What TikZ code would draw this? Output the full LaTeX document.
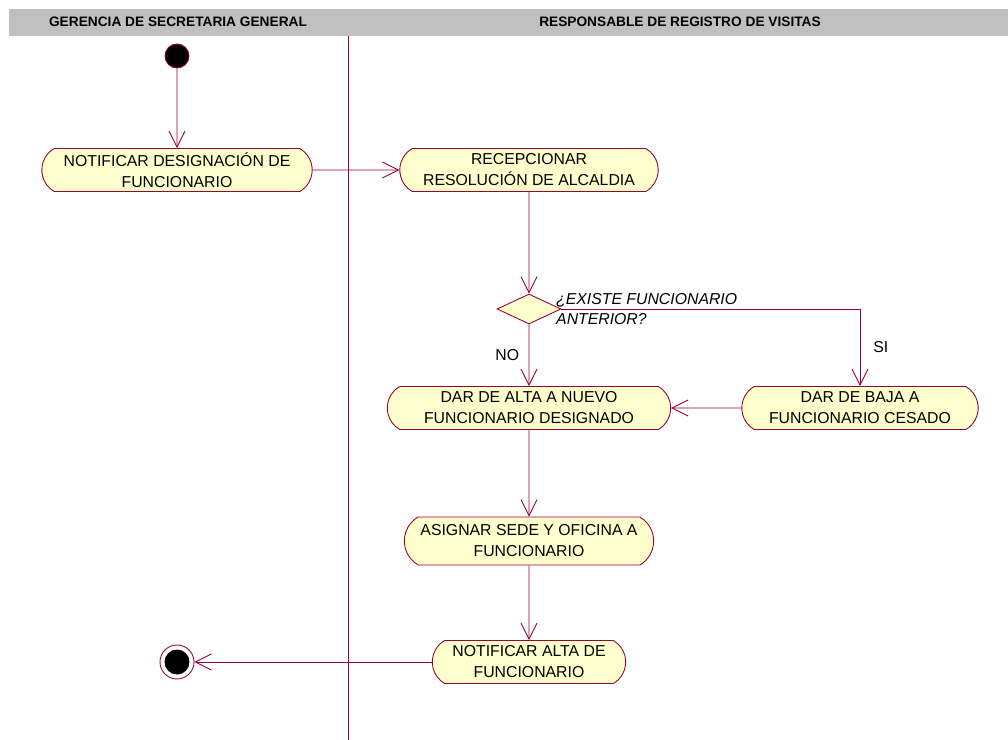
\documentclass[tikz,border=0pt]{standalone}
\usepackage{fontspec}
\setmainfont{Liberation Sans}
\usetikzlibrary{shapes.misc,shapes.geometric,arrows.meta}
\definecolor{umlline}{RGB}{153,0,51}
\definecolor{umlfill}{RGB}{255,255,206}
\definecolor{lanegray}{RGB}{192,192,192}
\begin{document}
\begin{tikzpicture}[x=0.02cm,y=-0.02cm,
		actividad/.style={rounded rectangle,rounded rectangle arc length=120,draw=umlline,fill=umlfill,line width=0.5pt,align=center,inner sep=1pt,font=\fontsize{9}{12}\selectfont,minimum height=0.86cm},
		flujo/.style={draw=umlline,line width=0.5pt,-{Straight Barb[length=0.32cm,width=0.32cm]}},
		carril/.style={font=\fontsize{7.8}{9}\selectfont\bfseries}]
	\useasboundingbox (0,0) rectangle (1008,740);
	\fill [lanegray] (9,9) rectangle (1008,36);
	\node [carril] (gerencia) at (178,22) {GERENCIA DE SECRETARIA GENERAL};
	\node [carril] (registro) at (680,22) {RESPONSABLE DE REGISTRO DE VISITAS};
	\draw [umlline,line width=0.45pt] (348,36) -- (348,740);
	\node [circle,fill=black,draw=umlline,line width=0.5pt,minimum size=0.48cm,inner sep=0] (inicio) at (177,56) {};
	\node [actividad,minimum width=5.48cm] (notificar) at (177,170) {NOTIFICAR DESIGNACIÓN DE\\FUNCIONARIO};
	\node [actividad,minimum width=5.24cm] (recepcionar) at (529,170) {RECEPCIONAR\\RESOLUCIÓN DE ALCALDIA};
	\node [diamond,draw=umlline,fill=umlfill,line width=0.5pt,minimum width=1.28cm,minimum height=0.6cm,inner sep=0] (existe) at (529,309) {};
	\node [anchor=west,align=left,font=\fontsize{9}{11}\selectfont\itshape] (pregunta) at (550,309) {¿EXISTE FUNCIONARIO\\ANTERIOR?};
	\node [actividad,minimum width=5.74cm] (alta) at (529,408) {DAR DE ALTA A NUEVO\\FUNCIONARIO DESIGNADO};
	\node [actividad,minimum width=4.8cm] (baja) at (860,408) {DAR DE BAJA A\\FUNCIONARIO CESADO};
	\node [actividad,minimum width=5.06cm,minimum height=0.96cm] (asignar) at (529,541) {ASIGNAR SEDE Y OFICINA A\\FUNCIONARIO};
	\node [actividad,minimum width=3.94cm] (notificaralta) at (529,662) {NOTIFICAR ALTA DE\\FUNCIONARIO};
	\node [circle,draw=umlline,fill=white,line width=0.5pt,minimum size=0.68cm,inner sep=0] (fin) at (177,662) {};
	\node [circle,fill=black,minimum size=0.5cm,inner sep=0] (finint) at (177,662) {};
	\draw [flujo] (inicio) -- (notificar);
	\draw [flujo] (notificar) -- (recepcionar);
	\draw [flujo] (recepcionar) -- (existe);
	\draw [flujo] (existe) -- node [left=2pt,font=\fontsize{9}{11}\selectfont] (no) {NO} (alta);
	\draw [flujo] (existe.east) -| node [pos=0.75,right=4pt,font=\fontsize{9}{11}\selectfont] (si) {SI} (baja.north);
	\draw [flujo] (baja) -- (alta);
	\draw [flujo] (alta) -- (asignar);
	\draw [flujo] (asignar) -- (notificaralta);
	\draw [flujo] (notificaralta) -- (fin);
\end{tikzpicture}
\end{document}
